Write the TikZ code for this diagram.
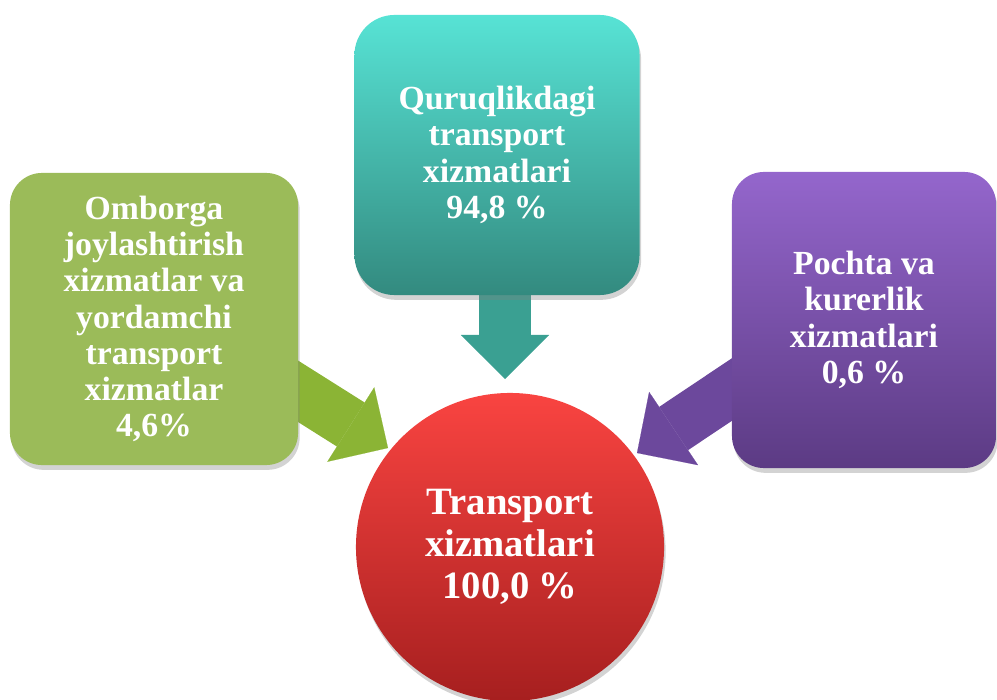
\documentclass[tikz,border=0pt]{standalone}
\usepackage{fontspec}
\setmainfont{Liberation Serif}
\usetikzlibrary{arrows.meta,shadows,backgrounds}

\definecolor{tealtop}{HTML}{57E3D5}
\definecolor{tealbot}{HTML}{338A7F}
\definecolor{tealarrow}{HTML}{3AA092}
\definecolor{greenbox}{HTML}{9BBB59}
\definecolor{greenarrow}{HTML}{8BB435}
\definecolor{purpletop}{HTML}{9466CC}
\definecolor{purplebot}{HTML}{5C3B84}
\definecolor{purplearrow}{HTML}{6C489C}
\definecolor{redtop}{HTML}{F94441}
\definecolor{redbot}{HTML}{A61F1F}

\begin{document}
\begin{tikzpicture}[x=0.025cm,y=0.025cm]
    \tikzstyle{every node}=[font=\fontsize{24}{25.8}\selectfont\bfseries,
    text=white, align=center]
    \tikzstyle{box}=[rounded corners=0.8cm,
    drop shadow={opacity=0.35,shadow xshift=0.04cm,shadow yshift=-0.12cm}]
    \tikzstyle{blockarrow}=[line width=1.3cm,
    -{Triangle[width=2.2cm 0 0,length=1.1cm 0 0,line width=0.1pt 0 0]}]
    \useasboundingbox (0,0) rectangle (997,699);

    \node[box, rounded corners=1cm, top color=tealtop, bottom color=tealbot,
    minimum width=7.125cm, minimum height=7cm] (land) at (497,544)
    {Quruqlikdagi\\transport\\xizmatlari\\94,8 \%};

    \node[box, fill=greenbox, minimum width=7.2cm, minimum height=7.3cm]
    (store) at (154,380) {Omborga\\joylashtirish\\xizmatlar va\\yordamchi\\
    transport\\xizmatlar\\4,6\%};

    \node[box, top color=purpletop, bottom color=purplebot, minimum width=6.6cm,
    minimum height=7.4cm] (post) at (864,379) {Pochta va\\kurerlik\\
    xizmatlari\\0,6 \%};

    \node[circle, top color=redtop, bottom color=redbot, minimum size=7.7cm,
    font=\fontsize{27.5}{30}\selectfont\bfseries,
    drop shadow={opacity=0.35,shadow xshift=0.04cm,shadow yshift=-0.12cm}]
    (total) at (510,152) {Transport\\xizmatlari\\100,0 \%};

    \coordinate (landtip) at (505,320);
    \coordinate (storetip) at (388,251);
    \coordinate (posttip) at (637,246);

    \begin{scope}[on background layer]
    \draw[blockarrow, tealarrow] (land.center -| landtip) -- (landtip);
    \draw[blockarrow, greenarrow] (250,338) -- (storetip);
    \draw[blockarrow, purplearrow] (800,355) -- (posttip);
    \end{scope}

\end{tikzpicture}
\end{document}
